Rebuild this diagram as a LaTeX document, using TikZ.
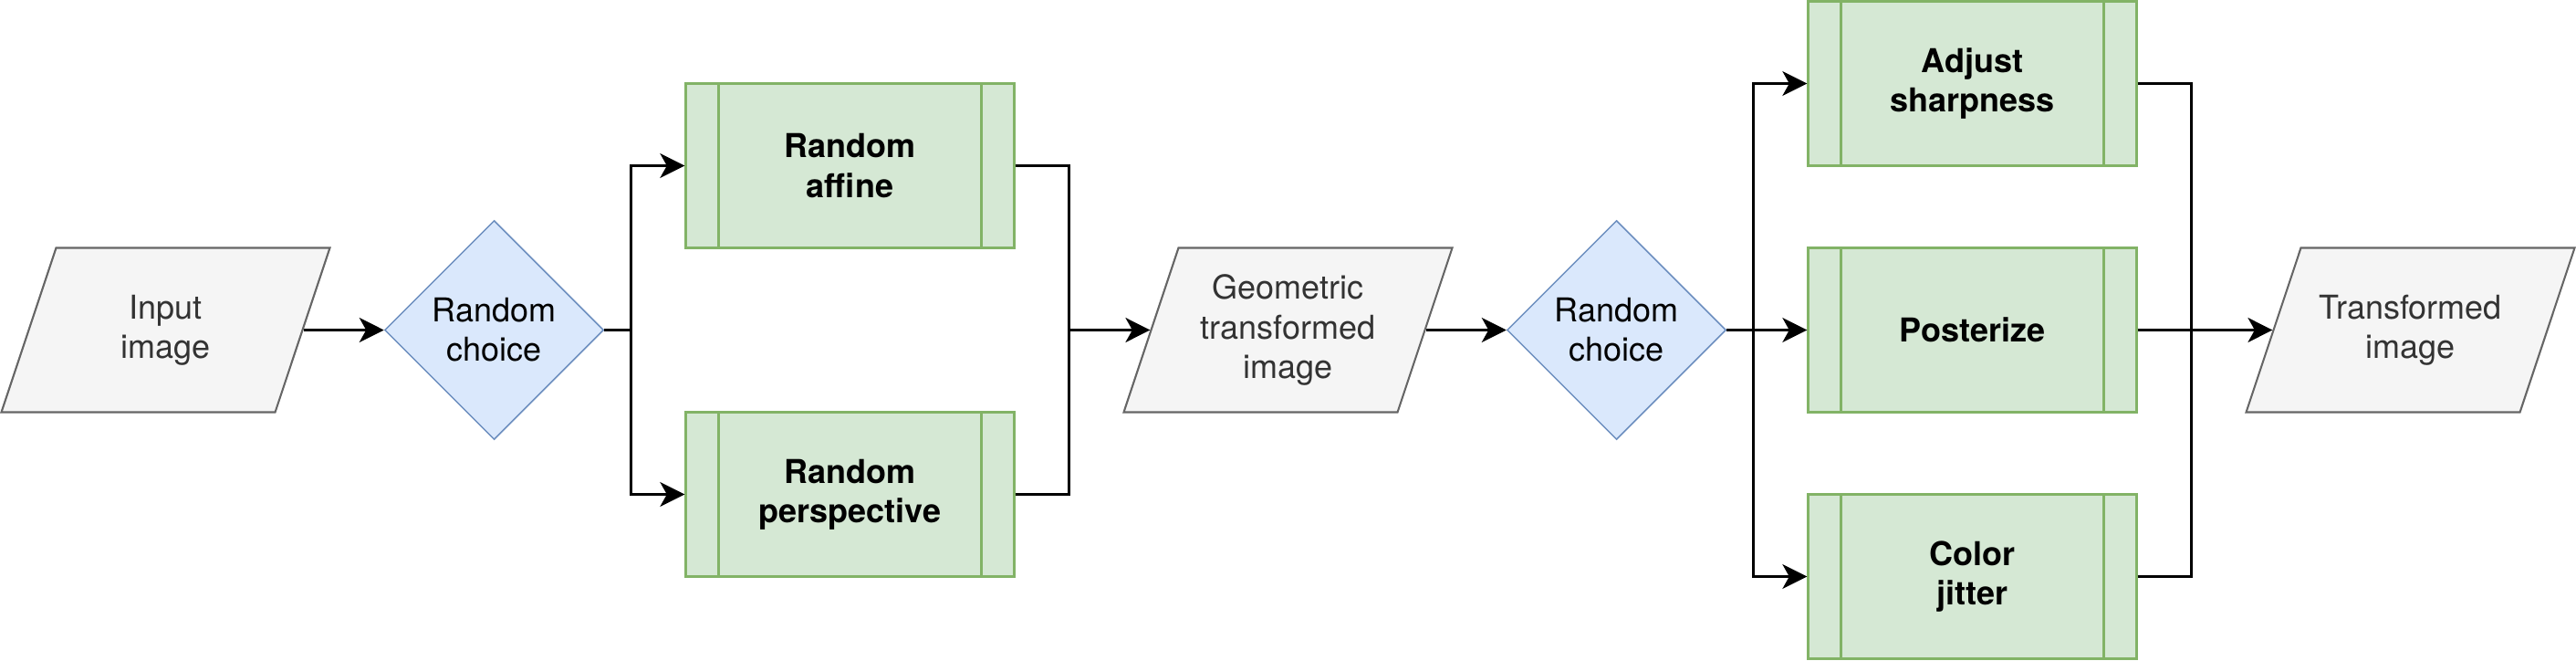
\documentclass[tikz,border=0pt]{standalone}
\usepackage{fontspec}
\setmainfont{TeX Gyre Heros}
\usetikzlibrary{shapes.geometric, arrows.meta}
\definecolor{iofill}{HTML}{F5F5F5}
\definecolor{iodraw}{HTML}{666666}
\definecolor{iotext}{HTML}{333333}
\definecolor{decfill}{HTML}{DAE8FC}
\definecolor{decdraw}{HTML}{6C8EBF}
\definecolor{prfill}{HTML}{D5E8D4}
\definecolor{prdraw}{HTML}{82B366}
\tikzset{iotxt/.style = {text=iotext, align=center, inner sep=0pt, font=\fontsize{12}{14.4}\selectfont},
         io/.style  = {trapezium, trapezium left angle=71.57, trapezium right angle=108.43,
                       trapezium stretches body, minimum width=120pt, inner xsep=0pt, inner ysep=30pt,
                       fill=iofill, draw=iodraw, line width=0.7pt, label={[iotxt]center:#1}},
         dec/.style = {diamond, aspect=1, minimum size=80pt, inner sep=0pt, fill=decfill,
                       draw=decdraw, line width=0.5pt, align=center, font=\fontsize{12}{14.4}\selectfont},
         pr/.style  = {rectangle, minimum width=120pt, minimum height=60pt, inner sep=0pt,
                       fill=prfill, draw=prdraw, line width=0.8pt, align=center,
                       font=\fontsize{12}{14.4}\selectfont\bfseries,
                       path picture={\draw[prdraw, line width=0.8pt]
                         ([xshift=12pt]path picture bounding box.north west) -- ([xshift=12pt]path picture bounding box.south west)
                         ([xshift=-12pt]path picture bounding box.north east) -- ([xshift=-12pt]path picture bounding box.south east);}}}

\begin{document}
\begin{tikzpicture}[x=1pt, y=-1pt, line width=0.7pt, >={Stealth[length=9pt, width=9pt, inset=2.5pt]}]
    \useasboundingbox (-0.5,-0.5) rectangle (940.5,240.5);
    \node[io={Input\\image}] (inp) at (60,120) {};
    \node[dec] (d1)  at (180,120) {Random\\choice};
    \node[pr]  (ra)  at (310,60)  {Random\\affine};
    \node[pr]  (rp)  at (310,180) {Random\\perspective};
    \node[io={Geometric\\transformed\\image}] (geo) at (470,120) {};
    \node[dec] (d2)  at (590,120) {Random\\choice};
    \node[pr]  (as)  at (720,30)  {Adjust\\sharpness};
    \node[pr]  (po)  at (720,120) {Posterize};
    \node[pr]  (cj)  at (720,210) {Color\\jitter};
    \node[io={Transformed\\image}] (out) at (880,120) {};
    \coordinate (s1) at (230,120); \coordinate (m1) at (390,120);
    \coordinate (s2) at (640,120); \coordinate (m2) at (800,120);
    \draw[->] (inp) -- (d1);
    \draw (d1) -- (s1);
    \draw[->] (s1) |- (ra);
    \draw[->] (s1) |- (rp);
    \draw (ra) -| (m1);
    \draw (rp) -| (m1);
    \draw[->] (m1) -- (geo);
    \draw[->] (geo) -- (d2);
    \draw (d2) -- (s2);
    \draw[->] (s2) |- (as);
    \draw[->] (s2) -- (po);
    \draw[->] (s2) |- (cj);
    \draw (as) -| (m2);
    \draw (cj) -| (m2);
    \draw (po) -- (m2);
    \draw[->] (m2) -- (out);
\end{tikzpicture}
\end{document}
